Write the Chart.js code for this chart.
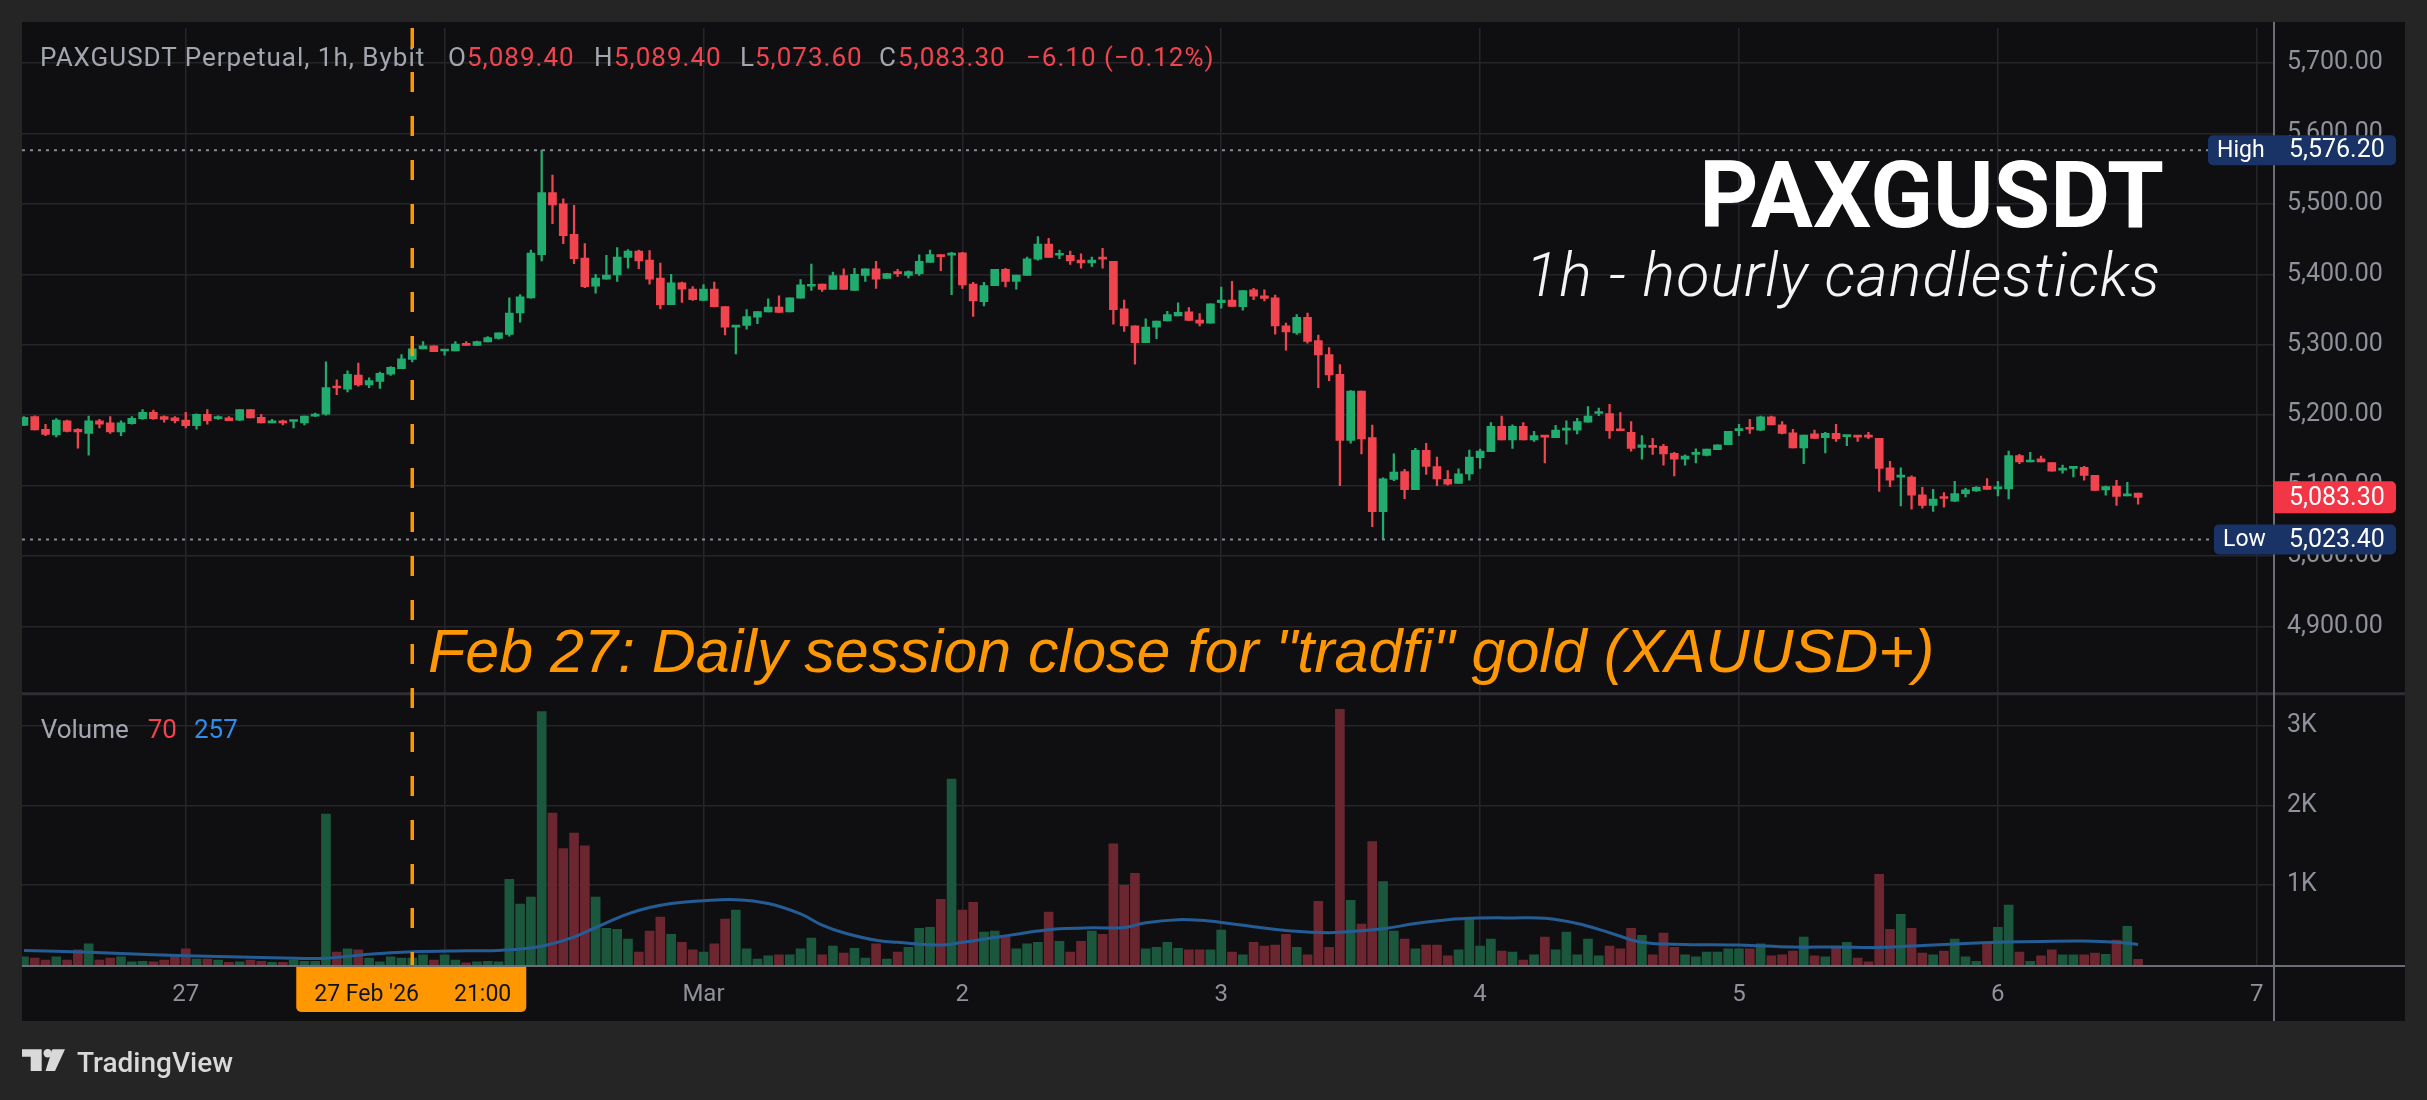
<!DOCTYPE html>
<html>
<head>
<meta charset="utf-8">
<script src="https://cdn.jsdelivr.net/npm/chart.js@4.4.1/dist/chart.umd.min.js"></script>
<style>
  html, body { margin: 0; padding: 0; background: #252525; overflow: hidden; }
  #wrap { position: relative; width: 2427px; height: 1100px; }
  #wrap canvas { position: absolute; left: 0; top: 0; }
  .t { position: absolute; white-space: pre; line-height: 1; font-family: Roboto, "Noto Sans", sans-serif; }
  .hd { top: 43.8px; font-size: 26px; letter-spacing: 1px; color: #a3a6ae; }
  .red { color: #f0444f; }
  .vl { top: 716px; font-size: 26px; color: #a3a6ae; }
</style>
</head>
<body>
<div id="wrap">
  <canvas id="chart" width="2427" height="1100"></canvas>

  <div class="t hd" style="left:40px">PAXGUSDT Perpetual, 1h, Bybit</div>
  <div class="t hd" style="left:448px">O</div><div class="t hd red" style="left:467px">5,089.40</div>
  <div class="t hd" style="left:594px">H</div><div class="t hd red" style="left:614px">5,089.40</div>
  <div class="t hd" style="left:740px">L</div><div class="t hd red" style="left:755px">5,073.60</div>
  <div class="t hd" style="left:879px">C</div><div class="t hd red" style="left:898px">5,083.30</div>
  <div class="t hd red" style="left:1026px">−6.10 (−0.12%)</div>

  <div class="t" style="right:263px;top:150px;font-size:92px;font-weight:700;color:#ffffff">PAXGUSDT</div>
  <div class="t" style="right:266px;top:245.3px;font-size:61px;font-weight:300;font-style:italic;letter-spacing:1.1px;color:#f4f4f4">1h - hourly candlesticks</div>

  <div class="t" style="left:428px;top:621.2px;font-family:'Liberation Sans',Arial,sans-serif;font-size:61px;font-style:italic;color:#ff9800">Feb 27: Daily session close for "tradfi" gold (XAUUSD+)</div>

  <div class="t vl" style="left:40.7px">Volume</div>
  <div class="t vl" style="left:147.7px;color:#f0444f">70</div>
  <div class="t vl" style="left:194px;color:#2f8ded">257</div>

  <div class="t" style="left:77px;top:1049px;font-size:28px;font-weight:500;color:#d9d9d9">TradingView</div>
</div>

<script>
// first candle is Feb 26 09:00, x values are hours counted from Feb 26 00:00
const startHour = 9;

const opens = [
  5185.5, 5198, 5180, 5172, 5192, 5180, 5174, 5192, 5189, 5176,
  5188, 5195, 5204, 5198, 5196, 5193, 5185, 5201, 5195, 5196,
  5193, 5208, 5197, 5189, 5192, 5191, 5189, 5198.5, 5201.5, 5241,
  5237, 5257, 5243, 5248, 5258, 5266, 5279, 5294, 5298.5, 5291,
  5291, 5302, 5299, 5304, 5309, 5314.5, 5345, 5366.5, 5428, 5516,
  5500, 5456.6, 5423, 5383, 5393, 5399, 5424, 5433, 5420, 5394.5,
  5357, 5388, 5379, 5363, 5379, 5354, 5325, 5327.5, 5339, 5346.6,
  5353.5, 5346.6, 5366, 5383, 5386, 5378.5, 5398, 5377, 5398.5, 5407.7,
  5394, 5404, 5398.5, 5401, 5417, 5428, 5427, 5430.6, 5386, 5361,
  5384, 5407, 5390, 5398.5, 5421.5, 5443, 5427, 5427, 5420, 5416,
  5424, 5418.4, 5351, 5326.7, 5303, 5325, 5333.6, 5341, 5346.6, 5335,
  5330.6, 5359.6, 5363.4, 5354, 5378, 5369.5, 5366.5, 5326.7, 5316.8, 5339,
  5306, 5286, 5258, 5164, 5234.3, 5168, 5063, 5108.8, 5120, 5094,
  5150, 5127, 5109, 5103, 5116.7, 5139.6, 5148, 5184, 5164.9, 5184,
  5164.9, 5171, 5168, 5178.6, 5178.6, 5190, 5202.3, 5202.3, 5180, 5175.5,
  5154.2, 5157.2, 5155.7, 5145.8, 5137.4, 5144.2, 5142.7, 5151, 5158, 5178,
  5181.7, 5178.6, 5197.7, 5186.2, 5174.8, 5153.4, 5173.3, 5168, 5174, 5169.4,
  5171, 5171.7, 5167, 5125, 5112, 5112.2, 5087, 5071.7, 5083.9, 5077.7,
  5088.5, 5092.3, 5099, 5095.4, 5095.4, 5142.7, 5133.5, 5138.1, 5132.8, 5122,
  5124.4, 5126, 5114.4, 5093.8, 5099.2, 5085.4, 5089.4
];
const highs = [
  5198, 5199, 5187, 5195, 5193, 5181, 5198.5, 5194, 5198, 5192,
  5198, 5208, 5207, 5199, 5198, 5204, 5202, 5208, 5199, 5198,
  5208, 5208, 5201, 5194, 5193, 5192.5, 5198.5, 5203, 5275.6, 5250,
  5263, 5274, 5253, 5261, 5269, 5286, 5295, 5304.5, 5298.5, 5293,
  5304.5, 5304.5, 5305, 5311.5, 5317, 5366.5, 5371, 5434.5, 5576.2, 5541,
  5507, 5498, 5443.5, 5400, 5427, 5438, 5435, 5434.5, 5433.5, 5416,
  5400, 5389, 5382.5, 5385.5, 5389, 5354, 5327.5, 5350, 5347, 5365,
  5369.5, 5366.5, 5392.5, 5414.5, 5386, 5403, 5407.7, 5408.5, 5407.7, 5418.4,
  5401, 5407, 5405, 5427.6, 5434.5, 5428, 5431, 5431, 5388.6, 5388.6,
  5407, 5408.5, 5399, 5424.5, 5453.5, 5451, 5434.5, 5433, 5429, 5424.5,
  5436.7, 5418.4, 5363.4, 5326.7, 5336.7, 5333.6, 5347.4, 5359.6, 5352.7, 5344.3,
  5358, 5381.7, 5390, 5377, 5380, 5378, 5370.3, 5330.6, 5342.8, 5345,
  5313.8, 5296, 5271.7, 5235, 5234.3, 5186, 5111, 5145, 5123, 5153,
  5160, 5140.6, 5121.3, 5123.6, 5150.3, 5151.9, 5189.3, 5198.5, 5186.2, 5189.3,
  5177, 5171, 5185.5, 5192, 5195.4, 5212.2, 5210, 5215.3, 5203.8, 5190.8,
  5171, 5167, 5158.7, 5147.3, 5143.5, 5152, 5151.9, 5158, 5177, 5187,
  5193.9, 5198.5, 5198.5, 5190.8, 5180, 5171.7, 5178.6, 5175.5, 5187, 5171,
  5171, 5175.5, 5167, 5134.3, 5125, 5113.7, 5097.6, 5094.6, 5090, 5106,
  5096, 5098.4, 5110, 5106, 5148.8, 5144.2, 5147.3, 5142, 5132.8, 5129,
  5126, 5127.4, 5114.4, 5099.2, 5107.6, 5104.5, 5089.4
];
const lows = [
  5185, 5179, 5171, 5169, 5176, 5153, 5143, 5182, 5174, 5171,
  5187, 5194, 5194, 5190, 5189, 5182, 5180, 5187, 5194, 5192,
  5192, 5196, 5189, 5189, 5186, 5182, 5186, 5198, 5200, 5229,
  5233, 5241, 5239, 5238, 5256.5, 5266, 5275.5, 5294, 5290, 5285,
  5291, 5299, 5299, 5304, 5308, 5312, 5332, 5366, 5419, 5472,
  5443.5, 5415, 5381, 5373, 5393, 5390, 5408.5, 5408, 5386, 5351,
  5357, 5360, 5363, 5363, 5353.5, 5314, 5287, 5322, 5330, 5346.6,
  5346, 5346.6, 5366, 5377, 5375.6, 5378.5, 5378.5, 5377, 5390, 5380,
  5394, 5397, 5395, 5398.5, 5417, 5405, 5371, 5380, 5340, 5355,
  5384, 5382, 5379, 5398.5, 5420, 5424, 5422, 5414, 5408.5, 5411,
  5408.5, 5329, 5319, 5272.5, 5303, 5308.4, 5333.6, 5341, 5334.4, 5326.7,
  5330.6, 5352, 5354.2, 5349, 5364, 5362, 5315, 5292.4, 5314.5, 5302.3,
  5239, 5248.8, 5100, 5160.2, 5145, 5041.8, 5023.4, 5107, 5081.5, 5094,
  5115.7, 5100, 5100.7, 5103, 5107.6, 5124.4, 5148, 5164.9, 5152.6, 5164.9,
  5162.6, 5132, 5168, 5158.7, 5173.3, 5190, 5199.2, 5167, 5177.8, 5148.8,
  5137.4, 5144.2, 5129, 5113.7, 5129, 5132, 5142, 5151, 5158, 5171,
  5174, 5177.8, 5186.2, 5173.3, 5153.4, 5131.2, 5167, 5146.5, 5162.6, 5156.5,
  5162.6, 5166.4, 5091.5, 5098.4, 5071, 5066.3, 5067.8, 5063.3, 5069.4, 5077,
  5084, 5091.5, 5094.6, 5085.4, 5081, 5131.2, 5133.5, 5133.5, 5120.5, 5117.5,
  5112.2, 5107.6, 5093, 5086.2, 5071.7, 5085.4, 5073.6
];
const closes = [
  5197, 5179, 5172.5, 5193, 5177, 5176, 5192, 5187, 5176, 5189,
  5195.5, 5204, 5195, 5194, 5192, 5185, 5201, 5192, 5198, 5192,
  5208, 5196, 5189, 5192, 5189, 5192, 5198.5, 5201.5, 5239, 5238.5,
  5258, 5243, 5249, 5259.5, 5268, 5280, 5294, 5298.5, 5290, 5293,
  5301, 5299, 5304.5, 5310, 5317, 5345, 5368, 5430, 5516, 5498.5,
  5455, 5422, 5382.5, 5394.5, 5399, 5424.5, 5433, 5419, 5393, 5357,
  5388, 5379, 5364, 5379, 5354, 5325, 5327.5, 5340, 5347, 5353.5,
  5346, 5366.5, 5385, 5385.5, 5378.5, 5398, 5378.5, 5400, 5407.7, 5393,
  5401, 5401, 5404, 5418.5, 5428, 5425, 5430, 5385, 5362, 5384,
  5407, 5390, 5399, 5422, 5443, 5424, 5429, 5419, 5416, 5420,
  5421.5, 5349.7, 5326.7, 5303, 5325, 5333.6, 5342.8, 5345.8, 5334.4, 5330.6,
  5358, 5363.4, 5354.2, 5377, 5368.8, 5365.7, 5326.7, 5318.3, 5339, 5304.6,
  5285.5, 5257, 5164, 5234.3, 5166.3, 5063, 5109.6, 5119, 5094, 5150,
  5127, 5109.6, 5102, 5116.7, 5140.4, 5148.8, 5184, 5164.9, 5184, 5164.9,
  5171, 5168.7, 5178.6, 5180, 5190.8, 5198.5, 5204.6, 5177.8, 5177.8, 5152.6,
  5158, 5154, 5145, 5137.4, 5142, 5147.3, 5151.9, 5158, 5177, 5179.4,
  5180, 5197.7, 5186.2, 5174, 5153.4, 5171.7, 5167, 5174, 5166.4, 5171,
  5168.7, 5168.7, 5124.4, 5107.6, 5113.7, 5086.2, 5071.7, 5080.8, 5081.6, 5088.5,
  5093.8, 5097.6, 5094.6, 5096.9, 5142.7, 5133.5, 5135.8, 5133.5, 5120.5, 5124.4,
  5126, 5114.4, 5093, 5098.4, 5084.6, 5087, 5083.3
];
const volumes = [
  101, 88, 61, 101, 61, 189, 264, 61, 88, 101,
  40, 47, 40, 61, 115, 203, 74, 74, 61, 34,
  40, 61, 47, 34, 34, 61, 47, 47, 1892, 162,
  203, 189, 88, 40, 101, 88, 88, 128, 61, 128,
  61, 27, 40, 47, 40, 1074, 764, 851, 3176, 1905,
  1459, 1655, 1493, 851, 459, 446, 324, 162, 426, 601,
  385, 284, 189, 162, 264, 574, 689, 203, 74, 115,
  128, 128, 203, 338, 128, 236, 149, 209, 88, 264,
  74, 162, 223, 459, 473, 824, 2331, 689, 784, 412,
  426, 372, 203, 264, 284, 662, 297, 162, 297, 426,
  385, 1520, 1000, 1149, 203, 223, 284, 209, 189, 189,
  189, 439, 162, 128, 284, 236, 250, 385, 223, 128,
  797, 223, 3203, 811, 514, 1547, 1047, 426, 324, 203,
  250, 250, 115, 189, 574, 236, 324, 176, 162, 61,
  128, 351, 189, 412, 128, 324, 115, 236, 203, 459,
  372, 128, 399, 223, 128, 101, 162, 162, 203, 203,
  203, 264, 115, 128, 176, 351, 115, 101, 209, 284,
  88, 40, 1135, 446, 635, 459, 149, 128, 176, 324,
  101, 47, 264, 473, 750, 162, 47, 115, 189, 128,
  128, 128, 149, 135, 311, 486, 70
];

// volume moving average
const maHours = [9, 15, 21, 27, 33, 37, 41, 45, 50, 53, 57, 60, 62, 65, 67, 69, 72, 75, 78, 81,
  83, 85, 88, 90, 94, 96, 99, 101, 103, 105, 108, 111, 113, 116, 118, 120, 123, 126, 130, 133,
  135, 138, 141, 144, 147, 150, 153, 156, 159, 163, 168, 173, 177, 181, 185, 189, 192, 196, 200, 203, 205];
const maValues = [182, 160, 128, 108, 88, 85, 135, 165, 178, 182, 236, 351, 470, 640, 720, 770, 805, 818, 770, 640,
  500, 405, 310, 284, 250, 284, 345, 385, 425, 453, 466, 470, 530, 568, 560, 534, 480, 432, 405, 430,
  453, 520, 568, 588, 590, 585, 520, 405, 284, 258, 250, 225, 225, 220, 245, 270, 284, 295, 300, 285, 257];

const dayTicks = [24, 48, 72, 96, 120, 144, 168, 192, 216];
const dayLabels = ['27', '28', 'Mar', '2', '3', '4', '5', '6', '7'];
const priceTicks = [4900, 5000, 5100, 5200, 5300, 5400, 5500, 5600, 5700];
const volumeTicks = [1000, 2000, 3000];

const highPrice = 5576.2;
const lowPrice = 5023.4;
const lastPrice = 5083.3;
const markerHour = 45; // 27 Feb 21:00

const UP = '#22ab6e';
const DOWN = '#f0444f';
const VOL_UP = '#1b573d';
const VOL_DOWN = '#6c2630';
const GRID = '#25252a';
const AXIS_TEXT = '#8f929a';
const ORANGE = '#ff9800';

const hours = opens.map((_, i) => startHour + i);
const isUp = i => closes[i] >= opens[i];

const wickData = hours.map((h, i) => ({ x: h, y: [lows[i], highs[i]] }));
const bodyData = hours.map((h, i) => ({ x: h, y: [opens[i], closes[i]] }));
const volData = hours.map((h, i) => ({ x: h, y: volumes[i] }));
const maData = maHours.map((h, i) => ({ x: h, y: maValues[i] }));

const fmtPrice = v => v.toLocaleString('en-US', { minimumFractionDigits: 2, maximumFractionDigits: 2 });

function roundRect(ctx, x, y, w, h, r) {
  ctx.beginPath();
  ctx.roundRect(x, y, w, h, r);
  ctx.fill();
}

const decor = {
  id: 'decor',
  beforeDraw(chart) {
    const ctx = chart.ctx;
    ctx.save();
    ctx.fillStyle = '#252525';
    ctx.fillRect(0, 0, chart.width, chart.height);
    ctx.fillStyle = '#0f0f12';
    ctx.fillRect(22, 22, 2383, 999);
    ctx.restore();
  },
  beforeDatasetsDraw(chart) {
    const ctx = chart.ctx;
    const y = chart.scales.y;
    ctx.save();
    // pane separator
    ctx.strokeStyle = '#2e2e34';
    ctx.lineWidth = 3;
    ctx.beginPath();
    ctx.moveTo(22, y.bottom);
    ctx.lineTo(2405, y.bottom);
    ctx.stroke();
    ctx.restore();
  },
  afterDatasetsDraw(chart) {
    const ctx = chart.ctx;
    const x = chart.scales.x.getPixelForValue(markerHour);
    const area = chart.chartArea;
    ctx.save();
    ctx.strokeStyle = ORANGE;
    ctx.lineWidth = 3.5;
    ctx.setLineDash([20, 24]);
    ctx.beginPath();
    ctx.moveTo(x, area.top);
    ctx.lineTo(x, area.bottom);
    ctx.stroke();
    ctx.restore();
  },
  afterDraw(chart) {
    const ctx = chart.ctx;
    const ys = chart.scales.y;
    const xs = chart.scales.x;
    const area = chart.chartArea;
    ctx.save();

    // price scale and time scale lines
    ctx.strokeStyle = '#6b6e76';
    ctx.lineWidth = 2;
    ctx.beginPath();
    ctx.moveTo(area.right, 22);
    ctx.lineTo(area.right, 1021);
    ctx.moveTo(22, area.bottom + 1);
    ctx.lineTo(2405, area.bottom + 1);
    ctx.stroke();

    // high / low markers
    const markers = [
      { p: highPrice, tag: 'High', boxLeft: 2208 },
      { p: lowPrice, tag: 'Low', boxLeft: 2214 }
    ];
    markers.forEach(m => {
      const py = ys.getPixelForValue(m.p);
      ctx.strokeStyle = '#8a8c93';
      ctx.lineWidth = 2;
      ctx.setLineDash([3, 5]);
      ctx.beginPath();
      ctx.moveTo(area.left, py);
      ctx.lineTo(m.boxLeft, py);
      ctx.stroke();
      ctx.setLineDash([]);
      ctx.fillStyle = '#1a3366';
      roundRect(ctx, m.boxLeft, py - 15, 2396 - m.boxLeft, 30, 5);
      ctx.fillStyle = '#ffffff';
      ctx.textBaseline = 'middle';
      ctx.textAlign = 'left';
      ctx.font = '23px Roboto';
      ctx.fillText(m.tag, m.boxLeft + 9, py + 1);
      ctx.font = '25px Roboto';
      ctx.fillText(fmtPrice(m.p), 2289, py + 1);
    });

    // last price
    const ly = ys.getPixelForValue(lastPrice);
    ctx.fillStyle = '#f23645';
    ctx.beginPath();
    ctx.roundRect(area.right, ly - 16, 2396 - area.right, 32, [0, 5, 5, 0]);
    ctx.fill();
    ctx.fillStyle = '#ffffff';
    ctx.font = '25px Roboto';
    ctx.textBaseline = 'middle';
    ctx.fillText(fmtPrice(lastPrice), 2289, ly + 1);

    // time label of the marker
    const mx = xs.getPixelForValue(markerHour);
    ctx.fillStyle = ORANGE;
    ctx.beginPath();
    ctx.roundRect(mx - 116, area.bottom + 2, 230, 45, [0, 0, 5, 5]);
    ctx.fill();
    ctx.fillStyle = '#131313';
    ctx.font = '23px Roboto';
    ctx.textAlign = 'left';
    ctx.fillText("27 Feb '26", mx - 98, 995);
    ctx.textAlign = 'right';
    ctx.fillText('21:00', mx + 99, 995);

    // TradingView mark
    ctx.fillStyle = '#d9d9d9';
    ctx.beginPath();
    ctx.moveTo(22, 1049.3); ctx.lineTo(41.7, 1049.3); ctx.lineTo(41.7, 1071);
    ctx.lineTo(30.7, 1071); ctx.lineTo(30.7, 1056.7); ctx.lineTo(22, 1056.7);
    ctx.closePath(); ctx.fill();
    ctx.beginPath();
    ctx.arc(47.7, 1053.3, 4.2, 0, Math.PI * 2);
    ctx.fill();
    ctx.beginPath();
    ctx.moveTo(52.3, 1049.3); ctx.lineTo(65, 1049.3); ctx.lineTo(55, 1071); ctx.lineTo(45.5, 1071);
    ctx.closePath(); ctx.fill();

    ctx.restore();
  }
};

new Chart(document.getElementById('chart'), {
  type: 'bar',
  data: {
    datasets: [
      {
        label: 'wick', data: wickData, yAxisID: 'y', grouped: false, barThickness: 1.6,
        backgroundColor: c => isUp(c.dataIndex) ? UP : DOWN, order: 2
      },
      {
        label: 'body', data: bodyData, yAxisID: 'y', grouped: false, barThickness: 8, minBarLength: 2,
        backgroundColor: c => isUp(c.dataIndex) ? UP : DOWN, order: 1
      },
      {
        label: 'volume', data: volData, yAxisID: 'yv', grouped: false, barThickness: 9,
        backgroundColor: c => isUp(c.dataIndex) ? VOL_UP : VOL_DOWN, order: 4
      },
      {
        type: 'line', label: 'volume ma', data: maData, yAxisID: 'yv',
        borderColor: '#245d96', borderWidth: 3, pointRadius: 0, tension: 0.4, order: 3
      }
    ]
  },
  options: {
    responsive: false,
    animation: false,
    devicePixelRatio: 1,
    layout: { padding: { left: 22, top: 22, right: 22, bottom: 79 } },
    plugins: {
      legend: { display: false },
      tooltip: { enabled: false }
    },
    scales: {
      x: {
        type: 'linear', position: 'bottom', min: 8.82, max: 217.6, offset: false,
        grid: { color: GRID, lineWidth: 1.5, drawTicks: false, offset: false },
        border: { display: false },
        ticks: {
          color: AXIS_TEXT, font: { family: 'Roboto', size: 24 }, padding: 16,
          autoSkip: false, maxRotation: 0,
          callback: v => {
            const k = dayTicks.indexOf(v);
            return k >= 0 ? dayLabels[k] : '';
          }
        },
        afterBuildTicks: s => { s.ticks = dayTicks.map(v => ({ value: v })); },
        afterFit: s => { s.height = 56; }
      },
      y: {
        type: 'linear', position: 'right', stack: 'pane', stackWeight: 670,
        min: 4804.4, max: 5749.7,
        grid: { color: GRID, lineWidth: 1.5, drawTicks: false },
        border: { display: false },
        ticks: {
          padding: 13, color: AXIS_TEXT, autoSkip: false,
          font: { family: 'Roboto', size: 25 }, callback: v => fmtPrice(v)
        },
        afterBuildTicks: s => { s.ticks = priceTicks.map(v => ({ value: v })); },
        afterFit: s => { s.width = 131; }
      },
      yv: {
        type: 'linear', position: 'right', stack: 'pane', stackWeight: 273,
        min: 0, max: 3400,
        grid: { color: GRID, lineWidth: 1.5, drawTicks: false },
        border: { display: false },
        ticks: {
          padding: 13, color: AXIS_TEXT, autoSkip: false,
          font: { family: 'Roboto', size: 25 }, callback: v => (v / 1000) + 'K'
        },
        afterBuildTicks: s => { s.ticks = volumeTicks.map(v => ({ value: v })); },
        afterFit: s => { s.width = 131; }
      }
    }
  },
  plugins: [decor]
});
</script>
</body>
</html>
